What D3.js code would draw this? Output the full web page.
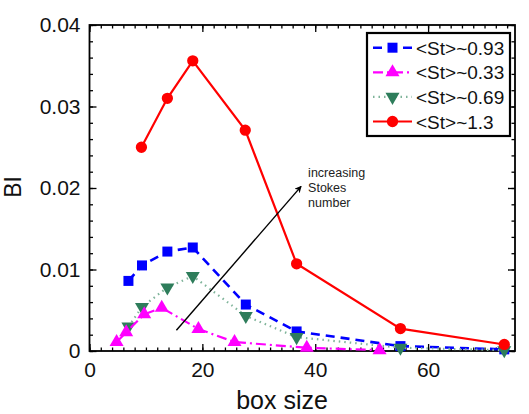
<!DOCTYPE html>
<html>
<head>
<meta charset="utf-8">
<script src="https://cdn.jsdelivr.net/npm/d3@7"></script>
<style>
  body { margin: 0; background: #fff; }
  svg { display: block; font-family: "Liberation Sans", Arial, sans-serif; }
</style>
</head>
<body>
<svg width="529" height="414"></svg>
<script>
// values
const boxBlue = [6.9, 9.3, 13.8, 18.3, 27.7, 36.7, 55.1, 73.5];
const biBlue = [0.0086, 0.0105, 0.0122, 0.0127, 0.0057, 0.0024, 0.0006, 0.0002];

const boxMagenta = [4.8, 6.5, 9.7, 12.8, 19.3, 25.7, 38.5, 51.4];
const biMagenta = [0.0011, 0.0023, 0.0045, 0.0053, 0.0027, 0.0011, 0.0004, 0.0001];

const boxGreen = [6.9, 9.3, 13.8, 18.3, 27.7, 36.7, 55.1, 73.5];
const biGreen = [0.0030, 0.0054, 0.0078, 0.0092, 0.0043, 0.0017, 0.0004, 0.0001];

const boxRed = [9.2, 13.8, 18.3, 27.6, 36.7, 55.1, 73.5];
const biRed = [0.0250, 0.0310, 0.0356, 0.0271, 0.0107, 0.00275, 0.0008];

const seriesNames = ["<St>~0.93", "<St>~0.33", "<St>~0.69", "<St>~1.3"];
const xTicks = [0, 20, 40, 60];
const yTicks = [0, 0.01, 0.02, 0.03, 0.04];
const arrowFrom = [15.4, 0.00254];
const arrowTo = [37.5, 0.0202];
const noteLines = ["increasing", "Stokes", "number"];

const main = function() {
  const svg = d3.select("svg");
  const left = 89.5, right = 515, top = 25, bottom = 351;

  const x = d3.scaleLinear().domain([0, 75.4]).range([left, right]);
  const y = d3.scaleLinear().domain([0, 0.04]).range([bottom, top]);

  const minorX = d3.range(0, 76, 2);
  const minorY = d3.range(0, 0.0401, 0.002);

  const styleAxis = g => {
    g.select(".domain").remove();
    g.selectAll("line").attr("stroke", "#000").attr("stroke-width", 1.3);
    g.selectAll("text").attr("fill", "#111").style("font-size", "21px");
  };

  // minor ticks
  svg.append("g").attr("transform", `translate(0,${bottom})`)
    .call(d3.axisBottom(x).tickValues(minorX).tickSize(-3.5).tickFormat("")).call(styleAxis);
  svg.append("g").attr("transform", `translate(0,${top})`)
    .call(d3.axisTop(x).tickValues(minorX).tickSize(-3.5).tickFormat("")).call(styleAxis);
  svg.append("g").attr("transform", `translate(${left},0)`)
    .call(d3.axisLeft(y).tickValues(minorY).tickSize(-3.5).tickFormat("")).call(styleAxis);
  svg.append("g").attr("transform", `translate(${right},0)`)
    .call(d3.axisRight(y).tickValues(minorY).tickSize(-3.5).tickFormat("")).call(styleAxis);

  // major ticks + labels
  svg.append("g").attr("transform", `translate(0,${bottom})`)
    .call(d3.axisBottom(x).tickValues(xTicks).tickSize(-7).tickPadding(11)).call(styleAxis);
  svg.append("g").attr("transform", `translate(0,${top})`)
    .call(d3.axisTop(x).tickValues(xTicks).tickSize(-7).tickFormat("")).call(styleAxis);
  svg.append("g").attr("transform", `translate(${left},0)`)
    .call(d3.axisLeft(y).tickValues(yTicks).tickSize(-7).tickPadding(9)
      .tickFormat(d => d === 0 ? "0" : d3.format(".2f")(d))).call(styleAxis);
  svg.append("g").attr("transform", `translate(${right},0)`)
    .call(d3.axisRight(y).tickValues(yTicks).tickSize(-7).tickFormat("")).call(styleAxis);

  svg.append("rect")
    .attr("x", left).attr("y", top)
    .attr("width", right - left).attr("height", bottom - top)
    .attr("fill", "none").attr("stroke", "#000").attr("stroke-width", 1.8);

  // axis titles
  svg.append("text")
    .attr("x", 282).attr("y", 409)
    .attr("text-anchor", "middle")
    .style("font-size", "25px").attr("fill", "#111")
    .text("box size");
  svg.append("text")
    .attr("transform", "translate(21,187) rotate(-90)")
    .attr("text-anchor", "middle")
    .style("font-size", "23px").attr("fill", "#111")
    .text("BI");

  const series = [
    { name: seriesNames[0], xs: boxBlue, ys: biBlue, color: "#0000ff", line: "#0000ff", dash: "9,6", width: 2.6, marker: "square" },
    { name: seriesNames[2], xs: boxGreen, ys: biGreen, color: "#2e7d5b", line: "#7fb49a", dash: "1.5,4", width: 2.2, marker: "down" },
    { name: seriesNames[1], xs: boxMagenta, ys: biMagenta, color: "#ff00ff", line: "#ff00ff", dash: "10,4,2,4", width: 2.2, marker: "up" },
    { name: seriesNames[3], xs: boxRed, ys: biRed, color: "#ff0000", line: "#ff0000", dash: null, width: 2.2, marker: "circle" }
  ];

  const symbolFor = m => {
    if (m === "square") return d3.symbol(d3.symbolSquare, 100)();
    if (m === "circle") return d3.symbol(d3.symbolCircle, 100)();
    return d3.symbol(d3.symbolTriangle, 85)();
  };
  const rot = m => m === "down" ? " rotate(180)" : "";

  const line = d3.line().x(d => x(d[0])).y(d => y(d[1]));

  const plot = svg.append("g");
  series.forEach(s => {
    const pts = s.xs.map((v, i) => [v, s.ys[i]]);
    plot.append("path")
      .attr("d", line(pts))
      .attr("fill", "none")
      .attr("stroke", s.line)
      .attr("stroke-width", s.width)
      .attr("stroke-dasharray", s.dash);
    plot.selectAll(null)
      .data(pts)
      .enter()
      .append("path")
      .attr("d", symbolFor(s.marker))
      .attr("transform", d => `translate(${x(d[0])},${y(d[1])})${rot(s.marker)}`)
      .attr("fill", s.color);
  });

  // arrow + note
  svg.append("defs").append("marker")
    .attr("id", "head")
    .attr("viewBox", "0 0 10 10")
    .attr("refX", 9).attr("refY", 5)
    .attr("markerWidth", 7).attr("markerHeight", 7)
    .attr("markerUnits", "userSpaceOnUse")
    .attr("orient", "auto")
    .append("path").attr("d", "M0,0 L10,5 L0,10 L3,5 Z").attr("fill", "#000");
  svg.append("line")
    .attr("x1", x(arrowFrom[0])).attr("y1", y(arrowFrom[1]))
    .attr("x2", x(arrowTo[0])).attr("y2", y(arrowTo[1]))
    .attr("stroke", "#000").attr("stroke-width", 1.4)
    .attr("marker-end", "url(#head)");
  svg.append("g").selectAll("text")
    .data(noteLines)
    .enter()
    .append("text")
    .attr("x", x(arrowTo[0]) + 7)
    .attr("y", (d, i) => y(arrowTo[1]) - 9 + i * 15)
    .style("font-size", "12.5px").attr("fill", "#222")
    .text(d => d);

  // legend
  const lg = svg.append("g");
  lg.append("rect")
    .attr("x", 367).attr("y", 33).attr("width", 143).attr("height", 103)
    .attr("fill", "#fff").attr("stroke", "#000").attr("stroke-width", 2.2);
  const legendOrder = [series[0], series[2], series[1], series[3]];
  legendOrder.forEach((s, i) => {
    const ly = 47.7 + i * 24.6;
    lg.append("line")
      .attr("x1", 373).attr("x2", 412).attr("y1", ly).attr("y2", ly)
      .attr("stroke", s.line).attr("stroke-width", s.width)
      .attr("stroke-dasharray", s.dash);
    lg.append("path")
      .attr("d", symbolFor(s.marker))
      .attr("transform", `translate(392.5,${ly})${rot(s.marker)}`)
      .attr("fill", s.color);
    lg.append("text")
      .attr("x", 416).attr("y", ly + 7)
      .style("font-size", "19px").attr("fill", "#111")
      .text(s.name);
  });
};

window.onload = main;
</script>
</body>
</html>
